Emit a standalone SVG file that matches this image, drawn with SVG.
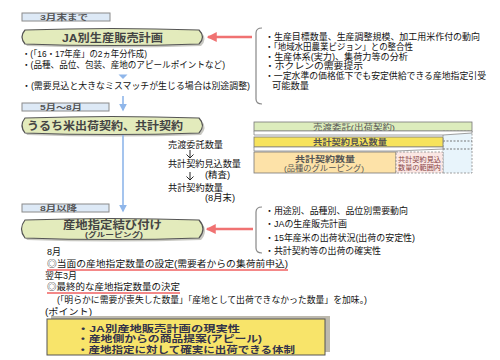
<svg xmlns="http://www.w3.org/2000/svg" width="500" height="360" viewBox="0 0 500 360">
<defs>
<style>
text{font-family:"Liberation Sans","Noto Sans CJK JP",sans-serif;}
.t{font-size:8.8px;fill:#111;}
.lb{fill:#dde9f6;stroke:#8a8a8a;stroke-width:1;}
.lbt{font-size:7.5px;fill:#555;font-weight:bold;}
.bn{fill:#e3ebbc;stroke:#555;stroke-width:1.2;}
.bs{fill:#9a9a90;opacity:0.55;}
.bnt{font-size:11.5px;font-weight:bold;fill:#444;}
.red{stroke:#f07272;stroke-width:2.5;fill:none;}
.blue{stroke:#8fb6ea;stroke-width:1.6;fill:none;}
.brk{stroke:#888;stroke-width:1.2;fill:none;}
.pt{font-size:9.5px;font-weight:bold;fill:#33334a;}
.ul{stroke:#f06060;stroke-width:1.5;}
.tb{font-size:8px;fill:#555;}
</style>
<marker id="ra" markerWidth="4" markerHeight="4" refX="3.5" refY="2" orient="auto" markerUnits="strokeWidth"><path d="M0,0 L4,2 L0,4 Z" fill="#f07272"/></marker>
<marker id="ba" markerWidth="5" markerHeight="5" refX="4" refY="2.5" orient="auto" markerUnits="strokeWidth"><path d="M0,0 L5,2.5 L0,5 Z" fill="#8fb6ea"/></marker>
</defs>
<rect width="500" height="360" fill="#fff"/>

<g id="label-3gatsu">
<rect class="lb" x="22" y="13" width="88" height="8"/>
<text class="lbt" x="40" y="20" textLength="48" lengthAdjust="spacingAndGlyphs">3月末まで</text>
</g>
<g id="banner-ja">
<path class="bs" d="M27,32 Q114,29 201,32 Q208,39 201,46 Q114,49 27,46 Q21,39 27,32 Z"/>
<path class="bn" d="M25,30 Q112,27 199,30 Q206,37 199,44 Q112,47 25,44 Q19,37 25,30 Z"/>
<text class="bnt" x="62" y="41.5" textLength="101" lengthAdjust="spacingAndGlyphs">JA別生産販売計画</text>
</g>
<g id="left-notes">
<text class="t" x="22" y="57" textLength="125" lengthAdjust="spacingAndGlyphs">・(「16・17年産」の2ヵ年分作成)</text>
<text class="t" x="22" y="68" textLength="203" lengthAdjust="spacingAndGlyphs">・(品種、品位、包装、産地のアピールポイントなど)</text>
<text class="t" x="22" y="89" textLength="228" lengthAdjust="spacingAndGlyphs">・(需要見込と大きなミスマッチが生じる場合は別途調整)</text>
</g>
<g id="factors-1">
<path class="brk" d="M262,28 Q256,28 256,33 L256,99 Q256,104 262,104"/>
<text class="t" x="265" y="40" textLength="215" lengthAdjust="spacingAndGlyphs">・生産目標数量、生産調整規模、加工用米作付の動向</text>
<text class="t" x="265" y="50" textLength="148" lengthAdjust="spacingAndGlyphs">・「地域水田農業ビジョン」との整合性</text>
<text class="t" x="265" y="59.5" textLength="143" lengthAdjust="spacingAndGlyphs">・生産体系(実力)、集荷力等の分析</text>
<text class="t" x="265" y="69" textLength="98" lengthAdjust="spacingAndGlyphs">・ホクレンの需要提示</text>
<text class="t" x="265" y="79" textLength="221" lengthAdjust="spacingAndGlyphs">・一定水準の価格低下でも安定供給できる産地指定引受</text>
<text class="t" x="272" y="89" textLength="37" lengthAdjust="spacingAndGlyphs">可能数量</text>
</g>

<g id="label-5-8gatsu">
<rect class="lb" x="22" y="103" width="87" height="8"/>
<text class="lbt" x="40" y="110" textLength="42" lengthAdjust="spacingAndGlyphs">5月～8月</text>
</g>
<g id="banner-uruchi">
<path class="bs" d="M27,120 Q114,117 201,120 Q208,127.5 201,135 Q114,138 27,135 Q21,127.5 27,120 Z"/>
<path class="bn" d="M25,118 Q112,115 199,118 Q206,125.5 199,133 Q112,136 25,133 Q19,125.5 25,118 Z"/>
<text class="bnt" x="27" y="130" textLength="156" lengthAdjust="spacingAndGlyphs">うるち米出荷契約、共計契約</text>
</g>
<g id="quantities">
<text class="t" x="168" y="148" textLength="55" lengthAdjust="spacingAndGlyphs">売渡委託数量</text>
<text class="t" x="168" y="167" textLength="73" lengthAdjust="spacingAndGlyphs">共計契約見込数量</text>
<text class="t" x="205" y="178" textLength="25" lengthAdjust="spacingAndGlyphs">(精査)</text>
<text class="t" x="168" y="191" textLength="55" lengthAdjust="spacingAndGlyphs">共計契約数量</text>
<text class="t" x="205" y="200.5" textLength="30" lengthAdjust="spacingAndGlyphs">(8月末)</text>
</g>
<g id="contract-table">
<rect x="254" y="122" width="218" height="9" fill="#dcecbc" stroke="#777" stroke-width="0.8"/>
<text class="tb" x="313" y="129.8" textLength="82" lengthAdjust="spacingAndGlyphs">売渡委託(出荷契約)</text>
<rect x="443" y="131" width="29" height="42" fill="#e8f4fb" stroke="#888" stroke-width="0.8" stroke-dasharray="2,1.5"/>
<line x1="443" y1="141" x2="472" y2="141" stroke="#777" stroke-width="1" stroke-dasharray="2,1.5"/>
<line x1="443" y1="149" x2="472" y2="149" stroke="#777" stroke-width="1" stroke-dasharray="2,1.5"/>
<path d="M254,131 L472,131 L472,133 L443,135 L254,135 Z" fill="#fff" stroke="#888" stroke-width="0.8"/>
<rect x="254" y="137" width="189" height="10" fill="#f7e35c" stroke="#777" stroke-width="0.8"/>
<text class="tb" x="313" y="145.3" textLength="74" lengthAdjust="spacingAndGlyphs" font-weight="bold">共計契約見込数量</text>
<path d="M254,147 L443,147 L443,149 L396,151 L254,151 Z" fill="#fff" stroke="#888" stroke-width="0.8"/>
<rect x="254" y="152" width="142" height="21" fill="#fde2a8" stroke="#777" stroke-width="0.8"/>
<text class="tb" x="295" y="162" textLength="60" lengthAdjust="spacingAndGlyphs" font-weight="bold">共計契約数量</text>
<text class="tb" x="284" y="170.5" textLength="80" lengthAdjust="spacingAndGlyphs" font-size="7">(品種のグルーピング)</text>
<rect x="396" y="152" width="47" height="21" fill="#fbe7e4" stroke="#888" stroke-width="0.8" stroke-dasharray="2,1.5"/>
<text x="398" y="161.5" font-size="6.5" fill="#884444" textLength="43" lengthAdjust="spacingAndGlyphs">共計契約見込</text>
<text x="398" y="169.5" font-size="6.5" fill="#884444" textLength="43" lengthAdjust="spacingAndGlyphs">数量の範囲内</text>
</g>

<g id="label-8gatsu">
<rect class="lb" x="22" y="204" width="87" height="8"/>
<text class="lbt" x="40" y="211" textLength="37" lengthAdjust="spacingAndGlyphs">8月以降</text>
</g>
<g id="banner-santi">
<path class="bs" d="M27,222 Q114,219 201,222 Q209,231 201,240 Q114,243 27,240 Q20,231 27,222 Z"/>
<path class="bn" d="M25,220 Q112,217 199,220 Q207,229 199,238 Q112,241 25,238 Q18,229 25,220 Z"/>
<text class="bnt" x="63" y="229" font-size="10" textLength="99" lengthAdjust="spacingAndGlyphs">産地指定結び付け</text>
<text x="85" y="237" font-size="6.5" fill="#444" font-weight="bold" textLength="58" lengthAdjust="spacingAndGlyphs">(グルーピング)</text>
</g>
<g id="factors-2">
<path class="brk" d="M262,207 Q256,207 256,212 L256,248 Q256,253 262,253"/>
<text class="t" x="265" y="214" textLength="143" lengthAdjust="spacingAndGlyphs">・用途別、品種別、品位別需要動向</text>
<text class="t" x="265" y="227" textLength="82" lengthAdjust="spacingAndGlyphs">・JAの生産販売計画</text>
<text class="t" x="265" y="241" textLength="150" lengthAdjust="spacingAndGlyphs">・15年産米の出荷状況(出荷の安定性)</text>
<text class="t" x="265" y="254" textLength="116" lengthAdjust="spacingAndGlyphs">・共計契約等の出荷の確実性</text>
</g>

<g id="schedule">
<text class="t" x="47" y="255" textLength="14" lengthAdjust="spacingAndGlyphs">8月</text>
<text class="t" x="47" y="267" textLength="241" lengthAdjust="spacingAndGlyphs">◎当面の産地指定数量の設定(需要者からの集荷前申込)</text>
<line class="ul" x1="47" y1="270" x2="288" y2="270"/>
<text class="t" x="45" y="279" textLength="32" lengthAdjust="spacingAndGlyphs">翌年3月</text>
<text class="t" x="47" y="290" textLength="133" lengthAdjust="spacingAndGlyphs">◎最終的な産地指定数量の決定</text>
<line class="ul" x1="47" y1="293" x2="180" y2="293"/>
<text class="t" x="57" y="303" textLength="310" lengthAdjust="spacingAndGlyphs">(「明らかに需要が喪失した数量」「産地として出荷できなかった数量」を加味。)</text>
<text class="t" x="45" y="315" textLength="47" lengthAdjust="spacingAndGlyphs">(ポイント)</text>
</g>
<g id="points">
<rect x="51" y="316" width="279" height="36" fill="#bdb9ad"/>
<rect x="47" y="319" width="278" height="36" fill="#f8e46a" stroke="#555" stroke-width="1"/>
<text class="pt" x="77" y="331.5" textLength="163" lengthAdjust="spacingAndGlyphs">・JA別産地販売計画の現実性</text>
<text class="pt" x="77" y="342" textLength="185" lengthAdjust="spacingAndGlyphs">・産地側からの商品提案(アピール)</text>
<text class="pt" x="77" y="352.5" textLength="218" lengthAdjust="spacingAndGlyphs">・産地指定に対して確実に出荷できる体制</text>
</g>

<g id="connectors">
<line class="red" x1="252" y1="37" x2="208" y2="37" marker-end="url(#ra)"/>
<line class="red" x1="253" y1="229" x2="207" y2="229" marker-end="url(#ra)"/>
<path d="M118.5,74.5 L127.5,74.5 L123,79 Z" fill="#8fb6ea"/>
<line class="blue" x1="123" y1="96" x2="123" y2="110" marker-end="url(#ba)"/>
<line class="blue" x1="123" y1="135" x2="123" y2="211" marker-end="url(#ba)"/>
<path d="M190,150 L190,158 M186.5,154.5 L190,158 L193.5,154.5" stroke="#111" stroke-width="0.9" fill="none"/>
<path d="M190,172 L190,180 M186.5,176.5 L190,180 L193.5,176.5" stroke="#111" stroke-width="0.9" fill="none"/>
</g>
</svg>
